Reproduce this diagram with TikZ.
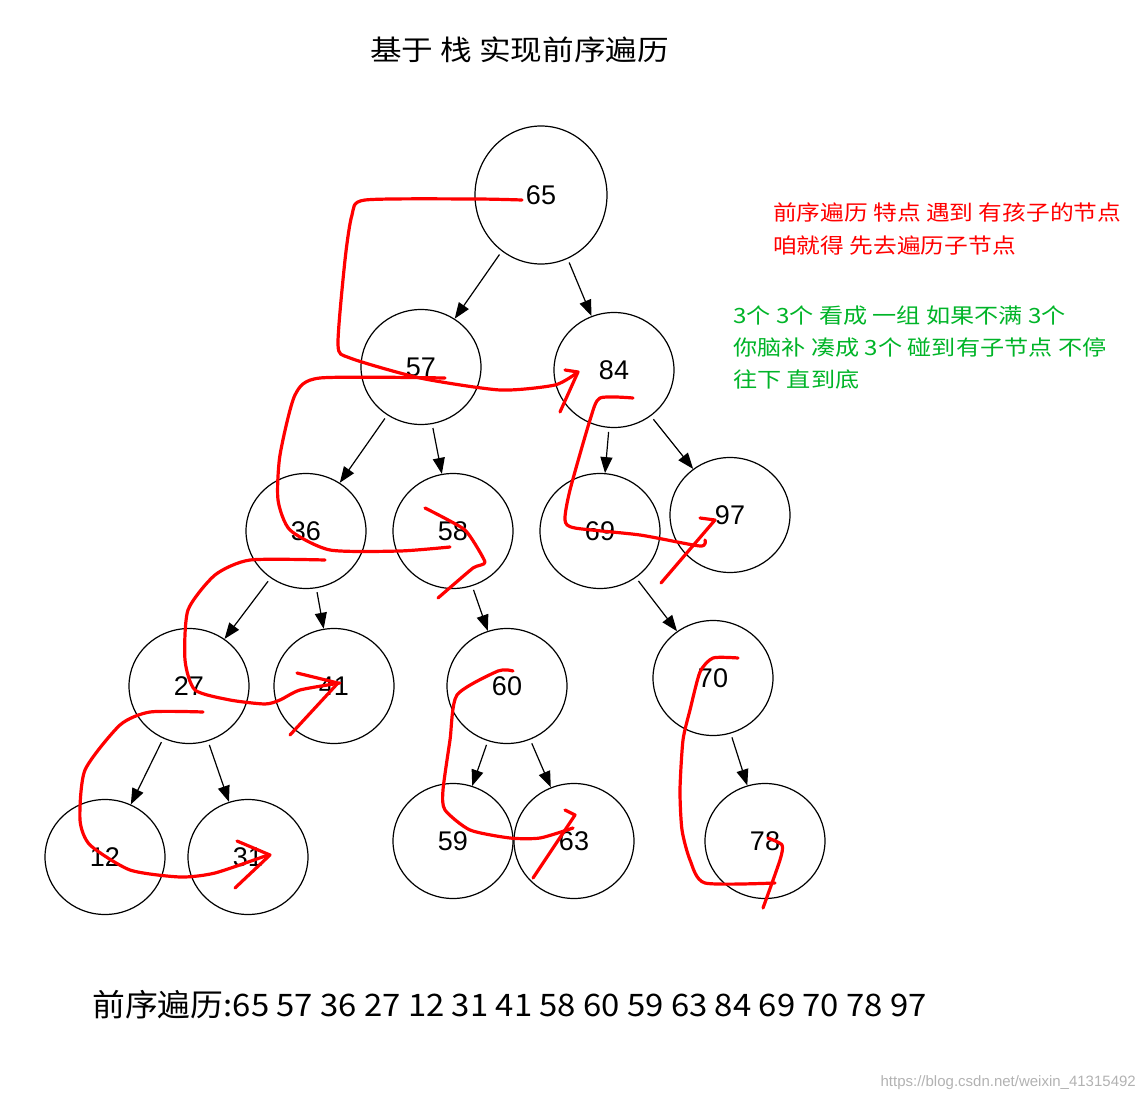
\documentclass[tikz,border=0pt]{standalone}
\usepackage{fontspec}
\usepackage{graphicx}
\setmainfont{Liberation Sans}
\newfontfamily\cjk{Noto Sans CJK SC}
\usetikzlibrary{arrows.meta,shapes.geometric}
\begin{document}
\begin{tikzpicture}[x=1pt,y=-1pt,
  tn/.style={draw,ellipse,minimum width=120pt,minimum height=115pt,inner sep=0pt,font=\fontsize{27}{27}\selectfont,line width=1.2pt},
  ed/.style={-{Triangle[length=16pt,width=12pt]},line width=1.2pt,shorten <=4pt},
  rp/.style={red,line width=3.2pt,line cap=round,line join=round}]
\useasboundingbox (0,0) rectangle (1144,1102);
\node[tn,minimum width=132pt,minimum height=138pt] (n65) at (541,195) {65};
\node[tn] (n57) at (421,367) {57};
\node[tn] (n84) at (614,370) {84};
\node[tn] (n36) at (306,531) {36};
\node[tn] (n58) at (453,531) {58};
\node[tn] (n69) at (600,531) {69};
\node[tn] (n97) at (730,515) {97};
\node[tn] (n27) at (189,686) {27};
\node[tn] (n41) at (334,686) {41};
\node[tn] (n60) at (507,686) {60};
\node[tn] (n70) at (713,678) {70};
\node[tn] (n12) at (105,857) {12};
\node[tn] (n31) at (248,857) {31};
\node[tn] (n59) at (453,841) {59};
\node[tn] (n63) at (574,841) {63};
\node[tn] (n78) at (765,841) {78};
\draw[ed] (n65) -- (n57);
\draw[ed] (n65) -- (n84);
\draw[ed] (n57) -- (n36);
\draw[ed] (n57) -- (n58);
\draw[ed] (n84) -- (n69);
\draw[ed] (n84) -- (n97);
\draw[ed] (n36) -- (n27);
\draw[ed] (n36) -- (n41);
\draw[ed] (n58) -- (n60);
\draw[ed] (n69) -- (n70);
\draw[ed] (n27) -- (n12);
\draw[ed] (n27) -- (n31);
\draw[ed] (n60) -- (n59);
\draw[ed] (n60) -- (n63);
\draw[ed] (n70) -- (n78);
% red strokes
\draw[rp] plot[smooth,tension=0.4] coordinates {(522,200)(475,199)(365,200)(352,215)(345,260)(338,345)(350,358)(420,378)(500,390)(555,385)(578,372)};
\draw[rp] (560,412) -- (578,372) -- (565,370);
\draw[rp] plot[smooth,tension=0.4] coordinates {(445,378)(320,378)(295,395)(280,455)(278,500)(290,530)(330,550)(400,551)(450,547)};
\draw[rp] plot[smooth,tension=0.3] coordinates {(425,508)(465,530)(485,562)(473,568)(438,598)};
\draw[rp] plot[smooth,tension=0.4] coordinates {(325,560)(250,560)(215,575)(188,610)(185,660)(195,690)(230,700)(265,704)(280,700)(300,690)(340,683)};
\draw[rp] (290,735) -- (338,683) -- (297,673);
\draw[rp] plot[smooth,tension=0.4] coordinates {(203,712)(150,712)(120,725)(85,770)(80,820)(90,845)(130,870)(180,877)(215,873)(268,855)};
\draw[rp] (235,888) -- (270,855) -- (237,841);
\draw[rp] plot[smooth,tension=0.4] coordinates {(513,671)(498,671)(457,695)(450,740)(443,790)(445,810)(470,830)(510,838)(540,838)(573,828)};
\draw[rp] (533,878) -- (575,815) -- (565,810);
\draw[rp] plot[smooth,tension=0.4] coordinates {(633,398)(600,398)(590,420)(570,490)(565,520)(575,528)(640,535)(700,546)(705,540)};
\draw[rp] (661,583) -- (715,520) -- (700,518);
\draw[rp] plot[smooth,tension=0.4] coordinates {(738,658)(713,658)(700,672)(690,710)(683,740)(680,790)(682,830)(690,860)(705,883)(775,883)};
\draw[rp] plot[smooth,tension=0.4] coordinates {(763,908)(780,860)(782,845)(768,838)};
% texts
\node[font=\cjk\fontsize{28}{28}\selectfont,anchor=west,inner sep=0pt] (title) at (370,50) {\scalebox{1.13}[1]{基于 栈 实现前序遍历}};
\node[font=\cjk\fontsize{21}{33}\selectfont,red,anchor=north west,align=left,inner sep=0pt] (rnote) at (773,203) {\scalebox{1.13}[1]{前序遍历 特点 遇到 有孩子的节点}\\\scalebox{1.13}[1]{咱就得 先去遍历子节点}};
\node[font=\cjk\fontsize{21}{32}\selectfont,text={rgb,255:red,0;green,180;blue,40},anchor=north west,align=left,inner sep=0pt] (gnote) at (733,306) {\scalebox{1.15}[1]{3个 3个 看成 一组 如果不满 3个}\\\scalebox{1.15}[1]{你脑补 凑成 3个 碰到有子节点 不停}\\\scalebox{1.15}[1]{往下 直到底}};
\node[font=\cjk\fontsize{31}{31}\selectfont,anchor=west,inner sep=0pt] (res) at (92,1005) {\scalebox{1.06}[1]{前序遍历:65 57 36 27 12 31 41 58 60 59 63 84 69 70 78 97}};
\node[font=\fontsize{15}{15}\selectfont,gray!60,anchor=east,inner sep=0pt] (wm) at (1136,1083) {https://blog.csdn.net/weixin\_41315492};
\end{tikzpicture}
\end{document}
